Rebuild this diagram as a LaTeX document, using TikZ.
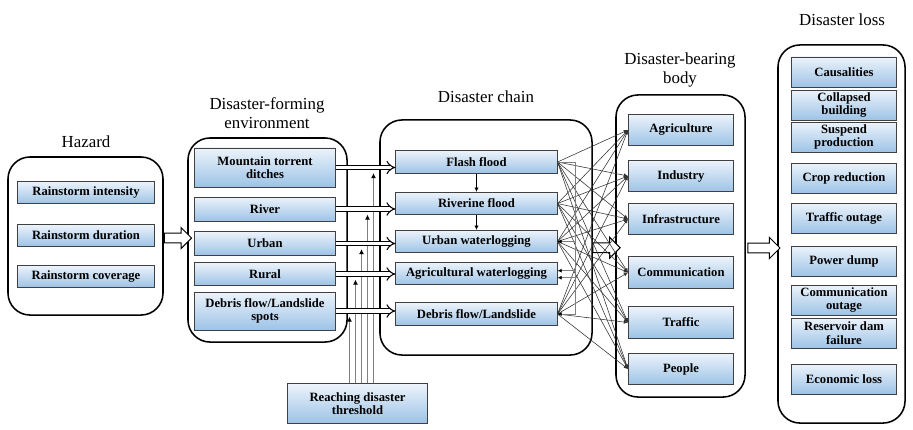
\documentclass[tikz,border=0pt]{standalone}
\usepackage{fontspec}
\setmainfont{Liberation Serif}
\usetikzlibrary{arrows.meta,calc,shapes.arrows,positioning}
\definecolor{boxtop}{RGB}{236,243,251}
\definecolor{boxbot}{RGB}{157,195,230}
\tikzset{
  group/.style={draw, line width=1.1pt, rounded corners=0.55cm},
  title/.style={align=center, font=\fontsize{12}{14}\selectfont},
  item/.style={draw=black!75, line width=0.7pt, top color=boxtop, bottom color=boxbot,
    align=center, inner sep=1pt, font=\bfseries\fontsize{9}{9.5}\selectfont},
  fatarrow/.style={single arrow, draw, fill=white, line width=0.7pt, inner sep=0.11cm,
    single arrow head extend=0.14cm, minimum height=0.68cm},
  dbl/.style={double, double distance=2.6pt, line width=0.75pt, -{Implies}},
  link/.style={black!80, line width=0.4pt, -{Latex[length=3pt,width=2.6pt]}},
  gline/.style={gray, line width=0.6pt, -{Latex[length=3pt,width=3pt,color=black]}},
  tline/.style={gray, line width=1pt, -{Latex[length=3.5pt,width=3.5pt,color=black]}},
}
\begin{document}
\begin{tikzpicture}[x=0.025cm, y=-0.025cm]
\useasboundingbox (0,0) rectangle (913,429);
% groups
\node[group, minimum width=3.875cm, minimum height=3.95cm] (hazG) at (85.5,236) {};
\node[group, minimum width=3.975cm, minimum height=5.1cm] (envG) at (267.5,240) {};
\node[group, minimum width=5.3cm, minimum height=5.875cm] (chainG) at (486,237.5) {};
\node[group, minimum width=3.225cm, minimum height=7.55cm] (bodyG) at (680.5,246) {};
\node[group, minimum width=3.175cm, minimum height=9.45cm] (lossG) at (841.5,234) {};
% titles
\node[title] (hazT) at (86,142) {Hazard};
\node[title] (envT) at (267,113) {Disaster-forming\\environment};
\node[title] (chainT) at (486,97) {Disaster chain};
\node[title] (bodyT) at (680,70) {Disaster-bearing\\body};
\node[title] (lossT) at (842,20) {Disaster loss};
% hazard
\foreach \n/\t/\y in {hi/Rainstorm intensity/192.5, hd/Rainstorm duration/235.5, hc/Rainstorm coverage/276.5}
  \node[item, minimum width=3.425cm, minimum height=0.55cm] (\n) at (86,\y) {\t};
% environment
\foreach \n/\t/\y/\h in {mount/{Mountain torrent\\ditches}/167.5/0.975, river/River/209/0.6,
    urban/Urban/243.5/0.58, rural/Rural/274/0.56, spots/{Debris flow/Landslide\\spots}/311/0.95}
  \node[item, minimum width=3.5cm, minimum height=\h cm] (\n) at (265,\y) {\t};
% chain
\foreach \n/\t/\y in {flash/Flash flood/162, riverf/Riverine flood/203.5, urbanw/Urban waterlogging/241.5,
    agriw/Agricultural waterlogging/273.5, debrisf/{Debris flow/Landslide}/314}
  \node[item, minimum width=4.025cm, minimum height=0.56cm] (\n) at (476.5,\y) {\t};
% bearing body
\foreach \n/\t/\y in {agr/Agriculture/130, ind/Industry/176, inf/Infrastructure/219,
    com/Communication/272.5, tra/Traffic/322.5, peo/People/369}
  \node[item, minimum width=2.625cm, minimum height=0.78cm] (\n) at (681,\y) {\t};
% loss
\foreach \n/\t/\y in {cas/Causalities/72, col/{Collapsed\\building}/105, sus/{Suspend\\production}/137,
    cro/Crop reduction/178, trf/Traffic outage/218, pow/Power dump/261,
    cmo/{Communication\\outage}/300, res/{Reservoir dam\\failure}/333, eco/Economic loss/379}
  \node[item, minimum width=2.625cm, minimum height=0.75cm] (\n) at (844,\y) {\t};
% threshold
\node[item, minimum width=3.475cm, minimum height=0.98cm] (thr) at (357.5,403.5) {Reaching disaster\\threshold};

% big arrows between groups
\path (hazG.east) -- (envG.west) node[midway, fatarrow] {};
\path ([yshift=-0.25cm]chainG.east) -- ([yshift=-0.05cm]bodyG.west) node[midway, fatarrow] {};
\path ([yshift=-0.05cm]bodyG.east) -- ([yshift=-0.35cm]lossG.west) node[midway, fatarrow, minimum height=0.8cm] {};

% threshold lines
\foreach \s [count=\i] in {spots,rural,urban,river,mount} {
  \coordinate (t\i) at ($(thr.north)+(\i*6-14,0)$);
  \coordinate (e\i) at ([yshift=-4pt]\s.east);
  \draw[tline] (t\i) -- (t\i |- e\i);
}

% environment -> chain
\foreach \s/\t in {mount/flash, river/riverf, urban/urbanw, rural/agriw, spots/debrisf}
  \draw[dbl] (\s.east) -- (\s.east -| \t.west);

% chain sequence
\draw[-{Latex[length=3pt,width=3pt]}] (flash) -- (riverf);
\draw[-{Latex[length=3pt,width=3pt]}] (riverf) -- (urbanw);

% chain -> body
\foreach \s in {flash,riverf,urbanw,debrisf}
  \foreach \t in {agr,ind,inf,com,tra,peo}
    \draw[link] (\s.east) -- (\t.west);

% bracket back into the chain
\coordinate (br) at ($(flash.east)+(18,0)$);
\draw[gray, line width=0.6pt] (flash.east) -- (br) -- (br |- debrisf.east);
\foreach \t/\d in {urbanw/0pt, agriw/2pt, agriw/-3pt, debrisf/0pt}
  \draw[gline] ([yshift=\d]\t.east) ++(18,0) -- ([yshift=\d]\t.east);
\end{tikzpicture}
\end{document}
